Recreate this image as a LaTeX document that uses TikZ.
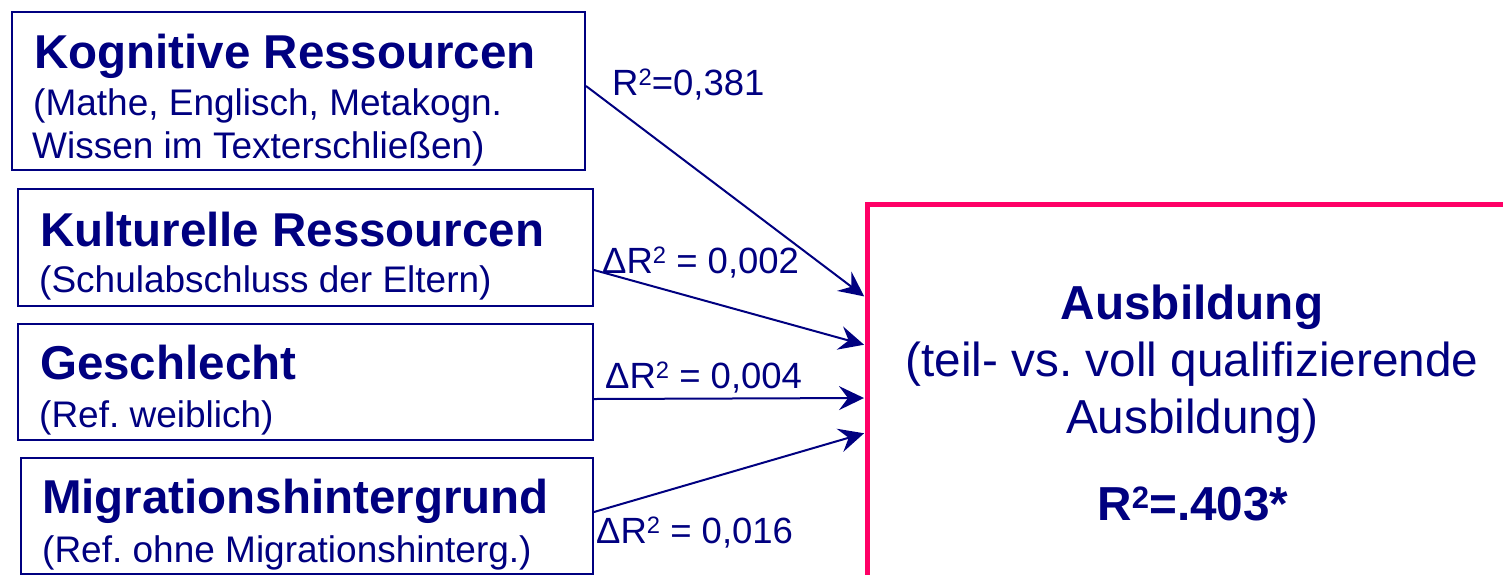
\documentclass[tikz,border=0pt]{standalone}
\usepackage{fontspec}
\usepackage{graphicx}
\setmainfont{Liberation Sans}
\usetikzlibrary{arrows.meta,calc}
\definecolor{navy}{RGB}{0,0,128}
\definecolor{pinkred}{RGB}{255,0,102}
\newcommand{\sqtwo}{\raisebox{0.25em}{\scalebox{0.65}{2}}}
\frenchspacing
\tikzset{
  box/.style={draw=navy, line width=2pt, rectangle, anchor=north west, inner sep=0pt},
  outbox/.style={draw=pinkred, line width=4.5pt, rectangle, anchor=north west, inner sep=0pt},
  title/.style={text=navy, anchor=base west, inner sep=0pt, font=\fontsize{47.5}{56}\selectfont\bfseries},
  sub/.style={text=navy, anchor=base west, inner sep=0pt, font=\fontsize{37}{44}\selectfont},
  lab/.style={text=navy, anchor=base west, inner sep=0pt, font=\fontsize{36.5}{44}\selectfont},
  rtitle/.style={text=navy, anchor=base, inner sep=0pt, font=\fontsize{47.7}{56}\selectfont\bfseries},
  rsub/.style={text=navy, anchor=base, inner sep=0pt, font=\fontsize{47.7}{56}\selectfont},
  conn/.style={draw=navy, line width=2pt, -{Stealth[length=25pt,width=24pt,inset=9pt]}, shorten >=1pt}
}
\begin{document}
\begin{tikzpicture}[x=1pt,y=-1pt]
\useasboundingbox (0,0) rectangle (1503,574);
\clip (0,0) rectangle (1503,574);
\fill[white] (0,0) rectangle (1503,574);

% left boxes
\node[box, minimum width=573pt, minimum height=158pt] (kog) at (11,11) {};
\node[box, minimum width=575pt, minimum height=117pt] (kult) at (17,188) {};
\node[box, minimum width=575pt, minimum height=116pt] (gesch) at (17,323) {};
\node[box, minimum width=572pt, minimum height=116pt] (mig) at (20,457) {};

% right box (extends beyond the picture)
\node[outbox, minimum width=700pt, minimum height=500pt] (aus) at (865,202) {};

% texts in left boxes
\node[title] (kogT) at (34,68) {Kognitive Ressourcen};
\node[sub] (kogS1) at (33,115) {(Mathe, Englisch, Metakogn.};
\node[sub] (kogS2) at (32,158) {Wissen im Texterschließen)};

\node[title] (kultT) at (40,246) {Kulturelle Ressourcen};
\node[sub] (kultS) at (39,292) {(Schulabschluss der Eltern)};

\node[title] (geschT) at (40,379) {Geschlecht};
\node[sub] (geschS) at (39,427) {(Ref. weiblich)};

\node[title] (migT) at (42,513) {Migrationshintergrund};
\node[sub] (migS) at (42,562) {(Ref. ohne Migrationshinterg.)};

% text in right box
\node[rtitle] (ausT) at (1192,319) {Ausbildung};
\node[rsub] (ausS1) at (1192,376) {(teil- vs. voll qualifizierende};
\node[rsub] (ausS2) at (1192,433) {Ausbildung)};
\node[rtitle] (ausR) at (1193,520) {R\sqtwo=.403*};

% connectors
\draw[conn] ([yshift=5pt]kog.east) -- ([yshift=-95pt]aus.north west);
\draw[conn] ([yshift=-22.5pt]kult.east) -- ([yshift=-143pt]aus.north west);
\draw[conn] ([yshift=-17pt]gesch.east) -- ([yshift=-196pt]aus.north west);
\draw[conn] ([yshift=4pt]mig.east) -- ([yshift=-231pt]aus.north west);

% connector labels
\node[lab] (l1) at (612,95) {R\sqtwo=0,381};
\node[lab] (l2) at (602,273) {ΔR\sqtwo{} = 0,002};
\node[lab] (l3) at (605,388) {ΔR\sqtwo{} = 0,004};
\node[lab] (l4) at (596,543) {ΔR\sqtwo{} = 0,016};
\end{tikzpicture}
\end{document}
